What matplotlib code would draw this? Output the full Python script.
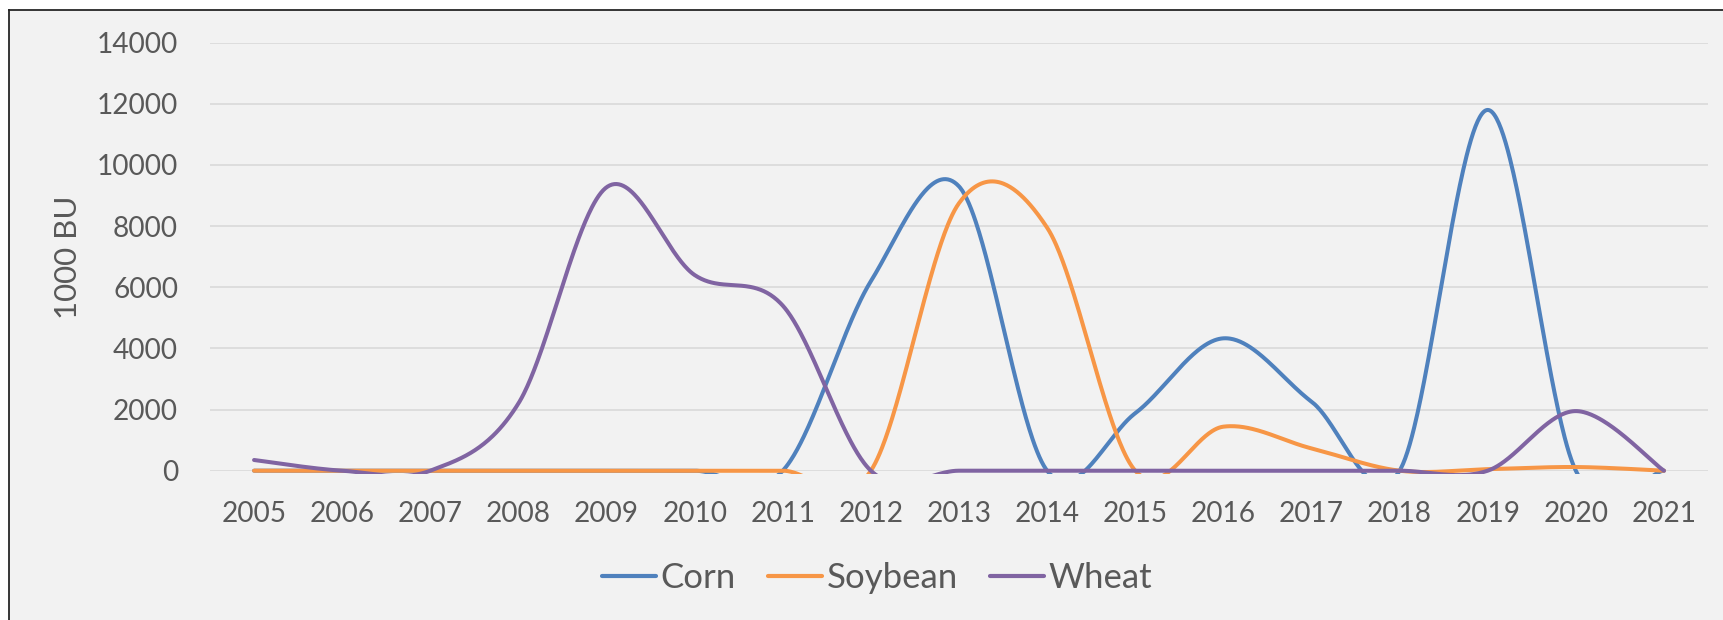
import numpy as np
import matplotlib
matplotlib.use("Agg")
import matplotlib.pyplot as plt
from matplotlib.patches import Rectangle
from matplotlib.lines import Line2D

# Harvest quantities, thousand bushels
years = [2005, 2006, 2007, 2008, 2009, 2010, 2011, 2012, 2013,
         2014, 2015, 2016, 2017, 2018, 2019, 2020, 2021]
corn = [0, 0, 0, 0, 0, 0, 0, 6200, 9300, 0, 1880, 4330, 2260, 0, 11800, 0, 0]
soybean = [0, 0, 0, 0, 0, 0, 0, 0, 8750, 7950, 0, 1440, 730, 0, 50, 120, 0]
wheat = [350, 0, 0, 2200, 9270, 6400, 5400, 0, 0, 0, 0, 0, 0, 0, 0, 1950, 0]

series_names = ["Corn", "Soybean", "Wheat"]
series_colors = ["#4F81BD", "#F79646", "#8064A2"]
y_ticks = [0, 2000, 4000, 6000, 8000, 10000, 12000, 14000]

TEXT = "#595959"
FONT = "Lato"


def smooth_curve(x, y, n=80):
    """Bezier smoothing through the points (control points at 1/6 of neighbour spans)."""
    pts = np.column_stack([np.asarray(x, float), np.asarray(y, float)])
    out = []
    t = np.linspace(0, 1, n)[:, None]
    for i in range(len(pts) - 1):
        p0, p3 = pts[i], pts[i + 1]
        pm = pts[i - 1] if i > 0 else pts[i]
        pp = pts[i + 2] if i + 2 < len(pts) else pts[i + 1]
        c1 = p0 + (p3 - pm) / 6.0
        c2 = p3 - (pp - p0) / 6.0
        seg = ((1 - t) ** 3) * p0 + 3 * ((1 - t) ** 2) * t * c1 \
            + 3 * (1 - t) * t ** 2 * c2 + t ** 3 * p3
        out.append(seg if i == 0 else seg[1:])
    seg = np.vstack(out)
    return seg[:, 0], seg[:, 1]


fig = plt.figure(figsize=(17.23, 6.2), dpi=100, facecolor="white")
W, H = 1723.0, 620.0

# chart area background and its frame
fig.patches.append(Rectangle((9 / W, 0), 1 - 9 / W, 1 - 10 / H,
                             transform=fig.transFigure, facecolor="#F2F2F2",
                             edgecolor="none", zorder=-10))
fig.lines.append(Line2D([9 / W, 1], [1 - 10 / H, 1 - 10 / H], transform=fig.transFigure,
                        color="#262626", lw=1.3))
fig.lines.append(Line2D([9 / W, 9 / W], [0, 1 - 10 / H], transform=fig.transFigure,
                        color="#262626", lw=1.3))

ax = fig.add_axes([210 / W, 1 - 470.7 / H, (1708 - 210) / W, (470.7 - 42.7) / H])
ax.set_facecolor("none")

idx = np.arange(len(years))
clip = Rectangle((0, -3.0 / 428), 1, 1 + 6.0 / 428, transform=ax.transAxes)

for name, vals, col in zip(series_names, [corn, soybean, wheat], series_colors):
    sx, sy = smooth_curve(idx, vals)
    ln, = ax.plot(sx, sy, color=col, lw=2.9, solid_capstyle="round",
                  solid_joinstyle="round", label=name, clip_on=True, zorder=3)
    ln.set_clip_path(clip)

ax.set_xlim(-0.5, len(years) - 0.5)
ax.set_ylim(0, 14000)
ax.set_yticks(y_ticks)
ax.set_yticklabels([str(v) for v in y_ticks])
ax.set_xticks(idx)
ax.set_xticklabels([str(y) for y in years])
ax.grid(axis="y", color="#D9D9D9", lw=1.2, zorder=0)
ax.set_axisbelow(True)
for s in ax.spines.values():
    s.set_visible(False)
ax.tick_params(axis="both", length=0, colors=TEXT, labelsize=20.2)
ax.tick_params(axis="y", pad=23)
ax.tick_params(axis="x", pad=22)
for lab in ax.get_xticklabels() + ax.get_yticklabels():
    lab.set_fontfamily(FONT)
    lab.set_color(TEXT)

fig.text(68 / W, 1 - 257 / H, "1000 BU", rotation=90, ha="center", va="center",
         fontsize=22.5, color=TEXT, family=FONT)

handles = [Line2D([], [], color=c, lw=3.0, solid_capstyle="round") for c in series_colors]
leg = fig.legend(handles, series_names, loc="center", bbox_to_anchor=(877 / W, 1 - 578 / H),
                 ncol=3, frameon=False, handlelength=1.55, handletextpad=0.14,
                 columnspacing=0.92, borderpad=0,
                 prop={"family": FONT, "size": 25})
for t in leg.get_texts():
    t.set_color(TEXT)

fig.savefig("out.png", dpi=100, facecolor="white")
